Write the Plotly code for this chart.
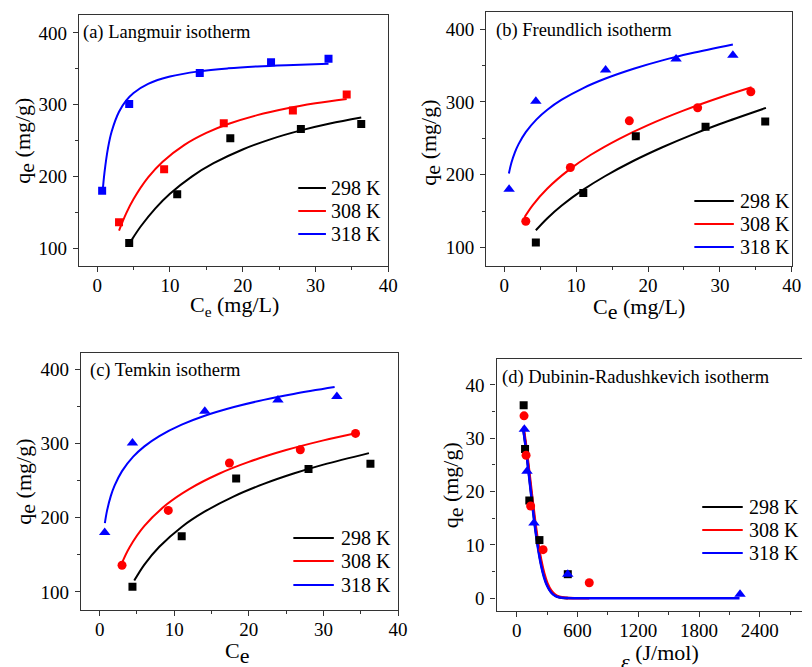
import plotly.graph_objects as go

W, H = 812, 667
FONT = "Liberation Serif, Times New Roman, serif"

# ---------------- experimental data ----------------
ce_298 = [4.4, 11.0, 18.3, 28.0, 36.3]
qe_298 = [107, 175, 253, 266, 273]
ce_308 = [3.0, 9.2, 17.4, 26.9, 34.3]
qe_308 = [136, 210, 274, 292, 314]
ce_318 = [0.68, 4.4, 14.1, 23.9, 31.8]
qe_318 = [180, 301, 344, 359, 364]

# D-R plot: epsilon (J/mol) vs plotted value
eps_298 = [68, 82, 124, 224, 504]
dr_298 = [36.2, 28.0, 18.3, 10.9, 4.5]
eps_308 = [72, 92, 137, 260, 716]
dr_308 = [34.2, 26.8, 17.3, 9.1, 2.9]
eps_318 = [75, 101, 170, 504, 2205]
dr_318 = [31.7, 23.8, 14.1, 4.5, 0.75]

# ---------------- fitted curves ----------------
lang_x_318 = [0.75, 1, 1.5, 2, 3, 4, 5, 7, 10, 14, 18, 22, 26, 31.8]
lang_y_318 = [179.0, 205.2, 240.4, 262.9, 290.1, 305.9, 316.3, 329.0, 339.2, 346.4, 350.6, 353.3, 355.1, 357.0]
lang_x_308 = [3.0, 4, 5, 7, 9, 12, 15, 18, 22, 26, 30, 34.3]
lang_y_308 = [124.4, 148.7, 168.4, 198.5, 220.4, 243.9, 260.6, 273.0, 285.4, 294.7, 301.9, 308.0]
lang_x_298 = [4.7, 6, 8, 10, 13, 16, 20, 24, 28, 32, 36.3]
lang_y_298 = [110.7, 130.4, 155.4, 175.7, 199.7, 218.3, 237.5, 252.3, 264.1, 273.7, 282.1]

freu_x_318 = [0.65, 1, 1.5, 2, 3, 4.5, 6, 8, 11, 14, 18, 22, 26, 31.8]
freu_y_318 = [201.8, 216.4, 231.1, 242.1, 258.6, 276.1, 289.3, 303.1, 319.1, 331.8, 345.6, 357.1, 366.8, 379.0]
freu_x_308 = [2.84, 4, 6, 9, 12, 16, 20, 25, 30, 34.4]
freu_y_308 = [141.9, 158.7, 181.1, 206.7, 227.1, 249.4, 268.2, 288.4, 306.1, 320.1]
freu_x_298 = [4.4, 6, 8, 11, 14, 18, 22, 26, 30, 36.4]
freu_y_298 = [123.7, 140.3, 157.7, 179.5, 197.9, 219.2, 237.8, 254.5, 269.7, 291.8]

temk_x_318 = [0.7, 1, 1.5, 2, 3, 4.5, 6, 8, 11, 14, 18, 22, 26, 31.5]
temk_y_318 = [192.8, 210.0, 229.6, 243.5, 263.1, 282.6, 296.5, 310.4, 325.8, 337.5, 349.6, 359.3, 367.3, 376.6]
temk_x_308 = [2.98, 4, 6, 9, 12, 16, 20, 25, 30, 34]
temk_y_308 = [138.8, 160.0, 189.1, 218.2, 238.8, 259.5, 275.5, 291.5, 304.6, 313.6]
temk_x_298 = [4.64, 6, 8, 11, 14, 18, 22, 26, 30, 36.1]
temk_y_298 = [115.2, 136.8, 160.9, 187.7, 207.9, 229.0, 245.8, 259.8, 271.8, 287.4]

dr_fx_318 = [65, 90, 120, 150, 180, 210, 240, 270, 300, 340, 380, 420, 480, 600, 1000, 1600, 2200]
dr_fy_318 = [31.6, 28.1, 23.2, 18.1, 13.4, 9.39, 6.23, 3.91, 2.33, 1.07, 0.45, 0.17, 0.03, 0, 0, 0, 0]
dr_fx_308 = [65, 90, 120, 150, 180, 210, 240, 270, 300, 340, 380, 420, 480, 600, 716]
dr_fy_308 = [32.2, 28.9, 24.2, 19.3, 14.6, 10.5, 7.2, 4.70, 2.91, 1.42, 0.63, 0.26, 0.06, 0, 0]
dr_fx_298 = [65, 90, 120, 150, 180, 210, 240, 270, 300, 340, 380, 420, 480, 504]
dr_fy_298 = [31.8, 28.3, 23.5, 18.5, 13.8, 9.8, 6.58, 4.19, 2.53, 1.19, 0.51, 0.20, 0.04, 0.02]

temps = ["298 K", "308 K", "318 K"]
colors = ["#000000", "#ff0000", "#0000ff"]


def px(x):
    return x / W


def py(y):
    return 1 - y / H


fig = go.Figure()

panels = {
    1: dict(dom_x=[px(80), px(393)], dom_y=[py(266), py(15)], xr=[-2.5, 40], yr=[75, 425], xd=10, yd=100),
    2: dict(dom_x=[px(492.3), px(801.7)], dom_y=[py(265.7), py(11.7)], xr=[-2.5, 40], yr=[75, 424], xd=10, yd=100),
    3: dict(dom_x=[px(82), px(403)], dom_y=[py(610), py(352.7)], xr=[-2.5, 40], yr=[75.5, 423], xd=10, yd=100),
    4: dict(dom_x=[px(502.7), 1.0], dom_y=[py(611), py(359.3)], xr=[-200, 2817], yr=[-2.4, 44.8], xd=600, yd=10),
}

fits = {
    1: [(lang_x_298, lang_y_298), (lang_x_308, lang_y_308), (lang_x_318, lang_y_318)],
    2: [(freu_x_298, freu_y_298), (freu_x_308, freu_y_308), (freu_x_318, freu_y_318)],
    3: [(temk_x_298, temk_y_298), (temk_x_308, temk_y_308), (temk_x_318, temk_y_318)],
    4: [(dr_fx_298, dr_fy_298), (dr_fx_308, dr_fy_308), (dr_fx_318, dr_fy_318)],
}
pts = {
    1: [(ce_298, qe_298), (ce_308, qe_308), (ce_318, qe_318)],
    2: [(ce_298, qe_298), (ce_308, qe_308), (ce_318, qe_318)],
    3: [(ce_298, qe_298), (ce_308, qe_308), (ce_318, qe_318)],
    4: [(eps_298, dr_298), (eps_308, dr_308), (eps_318, dr_318)],
}
symbols = {
    1: ["square", "square", "square"],
    2: ["square", "circle", "triangle-up"],
    3: ["square", "circle", "triangle-up"],
    4: ["square", "circle", "triangle-up"],
}
sizes = {"square": 8, "circle": 9, "triangle-up": 10}

for k in range(1, 5):
    xa = "x" if k == 1 else f"x{k}"
    ya = "y" if k == 1 else f"y{k}"
    lw = 2.6 if k == 4 else 2
    for i in range(3):
        fx, fy = fits[k][i]
        fig.add_trace(go.Scatter(x=fx, y=fy, mode="lines", line=dict(color=colors[i], width=lw, shape="spline"),
                                 xaxis=xa, yaxis=ya, showlegend=False, name=temps[i]))
    for i in range(3):
        sx, sy = pts[k][i]
        sym = symbols[k][i]
        fig.add_trace(go.Scatter(x=sx, y=sy, mode="markers",
                                 marker=dict(color=colors[i], symbol=sym, size=sizes[sym], line=dict(width=0)),
                                 xaxis=xa, yaxis=ya, showlegend=False, name=temps[i]))

axis_common = dict(showline=True, linecolor="#333333", linewidth=1.2, ticks="outside", ticklen=5,
                   tickwidth=1.2, tickcolor="#333333", showgrid=False, zeroline=False,
                   tickfont=dict(family=FONT, size=19, color="#000000"))

layout = {}
for k in range(1, 5):
    p = panels[k]
    xn = "xaxis" if k == 1 else f"xaxis{k}"
    yn = "yaxis" if k == 1 else f"yaxis{k}"
    xa_anchor = "y" if k == 1 else f"y{k}"
    ya_anchor = "x" if k == 1 else f"x{k}"
    layout[xn] = dict(axis_common, domain=p["dom_x"], range=p["xr"], dtick=p["xd"], tick0=0,
                      anchor=xa_anchor, mirror=True, ticklabelstandoff=-3,
                      minor=dict(ticks="outside", ticklen=3, tickwidth=1.2, tickcolor="#333333",
                                 dtick=p["xd"] / 2, tick0=0, showgrid=False))
    layout[yn] = dict(axis_common, domain=p["dom_y"], range=p["yr"], dtick=p["yd"], tick0=0,
                      anchor=ya_anchor, mirror=(k != 4), ticklabelstandoff=2,
                      minor=dict(ticks="outside", ticklen=3, tickwidth=1.2, tickcolor="#333333",
                                 dtick=p["yd"] / 2, tick0=0, showgrid=False))

annotations = []


def ann(text, x, y, size, angle=0, xanchor="center"):
    annotations.append(dict(text=text, x=px(x), y=py(y), xref="paper", yref="paper", showarrow=False,
                            xanchor=xanchor, yanchor="middle", textangle=angle,
                            font=dict(family=FONT, size=size, color="#000000")))


# panel titles
ann("(a) Langmuir isotherm", 82, 32, 18.5, xanchor="left")
ann("(b) Freundlich isotherm", 500, 30.5, 18.5, xanchor="left")
ann("(c) Temkin isotherm", 89.5, 370, 18.5, xanchor="left")
ann("(d) Dubinin-Radushkevich isotherm", 506, 377.5, 18.5, xanchor="left")

# axis titles
big_e = "<span style='font-size:22px'>e</span>"
ann("q<sub>" + big_e + "</sub> (mg/g)", 25, 141, 22, angle=-90)
ann("q<sub>" + big_e + "</sub> (mg/g)", 436, 143, 22, angle=-90)
ann("q<sub>" + big_e + "</sub> (mg/g)", 26, 482, 22, angle=-90)
ann("q<sub>" + big_e + "</sub> (mg/g)", 459, 485, 22, angle=-90)
ann("C<sub>e</sub> (mg/L)", 237, 306, 22)
ann("C<sub>" + big_e + "</sub> (mg/L)", 647, 309, 22)
ann("C<sub>" + big_e + "</sub>", 240, 653, 22)
ann("<i>ε</i> <sup><span style='font-size:22px'>(J/mol)</span></sup>", 668, 657, 22)

# legends (manual)
shapes = []
legends = [
    dict(x0=302, x1=330, tx=333, rows=[188, 211, 234]),
    dict(x0=703, x1=743, tx=747, rows=[201, 224, 247]),
    dict(x0=297, x1=338, tx=343, rows=[538, 561, 585]),
    dict(x0=711, x1=752, tx=756, rows=[507, 530, 553]),
]
for lg in legends:
    for i in range(3):
        yy = lg["rows"][i]
        shapes.append(dict(type="line", xref="paper", yref="paper", x0=px(lg["x0"]), x1=px(lg["x1"]),
                           y0=py(yy), y1=py(yy), line=dict(color=colors[i], width=2)))
        ann(temps[i], lg["tx"], yy, 20, xanchor="left")

fig.update_layout(**layout)
fig.update_layout(width=W, height=H, margin=dict(l=0, r=0, t=0, b=0), paper_bgcolor="white",
                  plot_bgcolor="white", showlegend=False, annotations=annotations, shapes=shapes)

fig.write_html("out.html")
